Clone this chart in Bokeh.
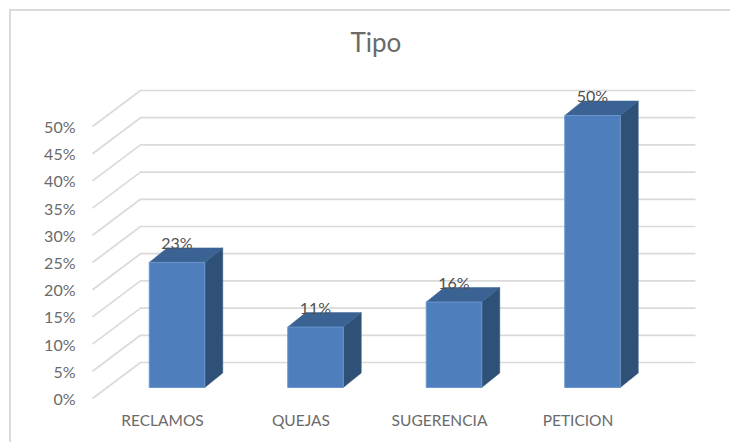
from bokeh.embed import file_html
from bokeh.resources import INLINE
from bokeh.plotting import figure
from bokeh.core.properties import value
from bokeh.models import Range1d, LinearAxis, FixedTicker, NumeralTickFormatter, Title

# ---- data -------------------------------------------------------------
categories = ["RECLAMOS", "QUEJAS", "SUGERENCIA", "PETICION"]
values = [0.23, 0.111, 0.157, 0.50]
value_labels = ["23%", "11%", "16%", "50%"]
y_ticks = [0.0, 0.05, 0.10, 0.15, 0.20, 0.25, 0.30, 0.35, 0.40, 0.45, 0.50]
title_text = "Tipo"

# ---- style / layout ---------------------------------------------------
PAGE = 11                 # the canvas starts here, inside the chart-area border
W, H = 732 - PAGE, 444 - PAGE
FRAME_L, FRAME_R, FRAME_T, FRAME_B = 85, 732, 60, 402   # page pixels
X0, DX = 176.5, 138.5     # page x of the first bar centre, bar spacing
Y0, DY = 387.0, 544.0     # page y of value 0, pixels per unit
CAT_SHIFT = 14.5          # category labels sit left of the bars
FRONT_SHIFT = 11          # front edge of the walls is below the bars' base
BACK_SHIFT = 25           # back wall zero is above the bars' base
DEPTH_X, DEPTH_Y = 18, 14.5
WALL_L_FRONT, WALL_L_BACK, WALL_R = 92, 140, 695
BAR_W = 55.5
FONT = "Lato"
TEXT = "#6a6a6a"
GRID = "#dadada"
C_FRONT, C_SIDE, C_TOP, C_EDGE = "#4e7fbc", "#2f5178", "#3a6292", "#6b96cc"

def xv(page_x):
    return (page_x - X0) / DX

x_range = Range1d(xv(FRAME_L), xv(FRAME_R))
y_range = Range1d((Y0 - FRAME_B) / DY, (Y0 - FRAME_T) / DY)

p = figure(width=W, height=H, output_backend="svg", toolbar_location=None,
           x_range=x_range, y_range=y_range, x_axis_type=None, y_axis_type=None,
           min_border_left=FRAME_L - PAGE, min_border_right=PAGE + W - FRAME_R,
           min_border_top=FRAME_T - PAGE, min_border_bottom=PAGE + H - FRAME_B,
           background_fill_color=None, border_fill_color="white",
           styles={"margin-left": "9px", "margin-top": "9px",
                   "border-top": "2px solid " + GRID, "border-left": "2px solid " + GRID})
p.outline_line_color = None
p.grid.visible = False

p.title = Title(text=title_text, align="left", offset=265, text_font=FONT,
                text_font_size="26px", text_font_style="normal", text_color=TEXT,
                standoff=5)

# shifted scales for the axis labels
p.extra_y_ranges["front"] = Range1d((Y0 + FRONT_SHIFT - FRAME_B) / DY, (Y0 + FRONT_SHIFT - FRAME_T) / DY)
p.extra_x_ranges["cats"] = Range1d((FRAME_L - X0 + CAT_SHIFT) / DX, (FRAME_R - X0 + CAT_SHIFT) / DX)

yaxis = LinearAxis(y_range_name="front", ticker=FixedTicker(ticks=y_ticks),
                   formatter=NumeralTickFormatter(format="0%"))
xaxis = LinearAxis(x_range_name="cats", ticker=FixedTicker(ticks=list(range(len(categories)))),
                   major_label_overrides={i: c for i, c in enumerate(categories)})
for ax in (yaxis, xaxis):
    ax.axis_line_color = None
    ax.major_tick_line_color = None
    ax.minor_tick_line_color = None
    ax.major_label_text_font = FONT
    ax.major_label_text_font_size = "16px"
    ax.major_label_text_color = TEXT
yaxis.major_label_standoff = 4
xaxis.major_label_standoff = 2
xaxis.major_label_text_font_size = "15.5px"
p.add_layout(yaxis, "left")
p.add_layout(xaxis, "below")

# walls: diagonal on the side wall, horizontal on the back wall
for v in y_ticks:
    p.line([xv(WALL_L_FRONT), xv(WALL_L_BACK), xv(WALL_R)],
           [v - FRONT_SHIFT / DY, v + BACK_SHIFT / DY, v + BACK_SHIFT / DY],
           line_color=GRID, line_width=1.7)

# 3-D bars
hw = BAR_W / 2 / DX
ddx, ddy = DEPTH_X / DX, DEPTH_Y / DY
for i, v in enumerate(values):
    p.patch([i + hw, i + hw + ddx, i + hw + ddx, i + hw],
            [0, ddy, v + ddy, v], fill_color=C_SIDE, line_color=C_SIDE, line_width=0.5)
    p.patch([i - hw, i + hw, i + hw + ddx, i - hw + ddx],
            [v, v, v + ddy, v + ddy], fill_color=C_TOP, line_color=C_TOP, line_width=0.5)
    p.quad(left=i - hw, right=i + hw, bottom=0, top=v,
           fill_color=C_FRONT, line_color=C_EDGE, line_width=1)

p.text(x=list(range(len(categories))), y=values, text=value_labels,
       y_offset=-20, text_align="center", text_baseline="middle",
       text_font=value(FONT), text_font_size="16px", text_color="#505050")

open("out.html", "w").write(file_html(p, INLINE))
